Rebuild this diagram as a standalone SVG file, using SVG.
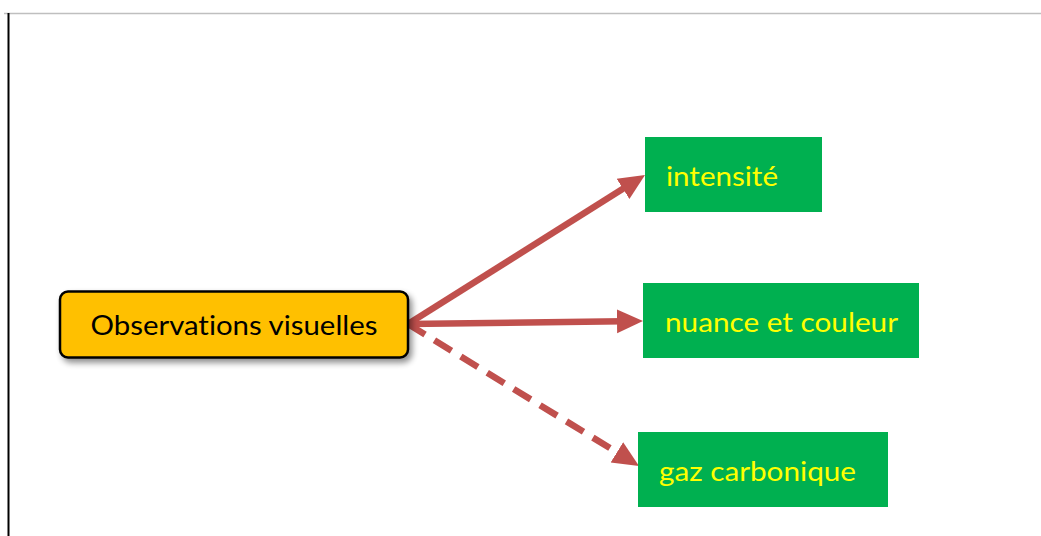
<svg xmlns="http://www.w3.org/2000/svg" width="1041" height="536" viewBox="0 0 1041 536">
<style>
.lbl{font-family:Lato,"Liberation Sans",sans-serif;font-size:26px;fill:#FFFF00;font-variant-ligatures:none}
.main{font-family:Lato,"Liberation Sans",sans-serif;font-size:26px;fill:#000;font-variant-ligatures:none}
.green{fill:#00B050}
.conn{stroke:#C0504D;stroke-width:6.5;fill:none}
</style>
<defs>
<marker id="ah" markerUnits="userSpaceOnUse" markerWidth="28" markerHeight="28" viewBox="0 0 28 28" refX="6" refY="14" orient="auto">
<path d="M0,2 L26,14 L0,26 Z" fill="#C0504D"/>
</marker>
<filter id="sh" x="-10%" y="-20%" width="125%" height="150%">
<feGaussianBlur in="SourceAlpha" stdDeviation="3"/>
<feOffset dx="3" dy="4" result="b"/>
<feComponentTransfer><feFuncA type="linear" slope="0.45"/></feComponentTransfer>
<feMerge><feMergeNode/><feMergeNode in="SourceGraphic"/></feMerge>
</filter>
</defs>
<rect width="1041" height="536" fill="#fff"/>
<line x1="4" y1="13.5" x2="1041" y2="13.5" stroke="#BFBFBF" stroke-width="1.5"/>
<line x1="8.5" y1="13" x2="8.5" y2="536" stroke="#000" stroke-width="2"/>
<g id="connectors">
<line class="conn" x1="408" y1="324" x2="628.1" y2="185.6" marker-end="url(#ah)"/>
<line class="conn" x1="408" y1="324" x2="623" y2="321.3" marker-end="url(#ah)"/>
<line class="conn" x1="408" y1="324" x2="622" y2="455.5" stroke-dasharray="20,11" marker-end="url(#ah)"/>
</g>
<g id="node-observations">
<rect x="60" y="291.5" width="348" height="66" rx="8" fill="#FFC000" stroke="#000" stroke-width="2.5" filter="url(#sh)"/>
<text class="main" x="234" y="335" text-anchor="middle" textLength="287" lengthAdjust="spacingAndGlyphs">Observations visuelles</text>
</g>
<g id="node-intensite">
<rect class="green" x="645" y="137" width="177" height="75"/>
<text class="lbl" x="666" y="186" textLength="112" lengthAdjust="spacingAndGlyphs">intensité</text>
</g>
<g id="node-nuance">
<rect class="green" x="643" y="283" width="276" height="75"/>
<text class="lbl" x="665" y="332" textLength="233" lengthAdjust="spacingAndGlyphs">nuance et couleur</text>
</g>
<g id="node-gaz">
<rect class="green" x="638" y="432" width="250" height="75"/>
<text class="lbl" x="659" y="481" textLength="197" lengthAdjust="spacingAndGlyphs">gaz carbonique</text>
</g>
</svg>
